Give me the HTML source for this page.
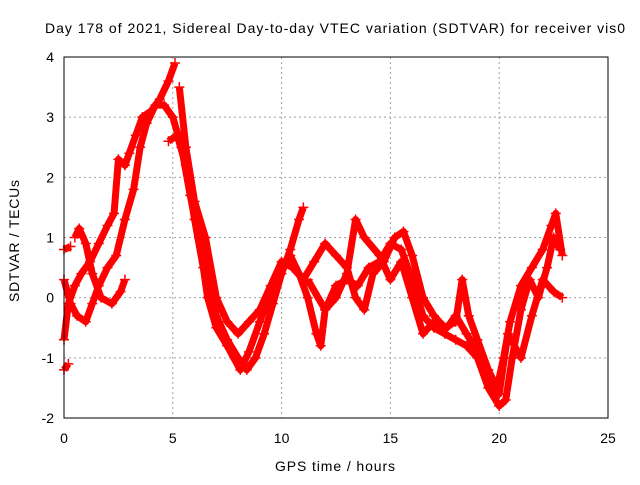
<!DOCTYPE html>
<html><head><meta charset="utf-8"><style>
body{margin:0;background:#fff}
svg text{font-family:"Liberation Sans",sans-serif;font-size:14px;fill:#000}
</style></head><body>
<svg id="chart" width="640" height="480" xmlns="http://www.w3.org/2000/svg">
<rect width="640" height="480" fill="#fff"/>
<g id="grid"></g>
<g id="series"></g>
<rect x="64" y="57" width="544" height="361" fill="none" stroke="#000" stroke-width="1"/>
<g id="ticks"></g>
<text x="45" y="33" textLength="580" lengthAdjust="spacing">Day 178 of 2021, Sidereal Day-to-day VTEC variation (SDTVAR) for receiver vis0</text>
<text x="275" y="471" textLength="120" lengthAdjust="spacing">GPS time / hours</text>
<text transform="translate(19,302) rotate(-90)" textLength="122" lengthAdjust="spacing">SDTVAR / TECUs</text>
</svg>
<script>
const xTicks=[0,5,10,15,20,25];
const yTicks=[-2,-1,0,1,2,3,4];
const s1=[[0,-0.7],[0.2,-0.1],[0.5,0.2],[0.8,0.4],[1.2,0.6],[1.6,0.9],[2,1.2],[2.3,1.4],[2.5,2.3],[2.8,2.2],[3.0,2.4],[3.3,2.7],[3.6,3.0],[4,3.1],[4.4,3.3],[4.8,3.6],[5.1,3.9]];
const s2=[[0,0.3],[0.3,-0.1],[0.6,-0.3],[1,-0.4],[1.3,-0.1],[1.6,0.2],[2,0.5],[2.4,0.7],[2.8,1.3],[3.2,1.8],[3.5,2.5],[3.8,2.9],[4.2,3.2],[4.6,3.2],[5,3.0],[5.4,2.5],[5.8,1.7],[6.2,1.0],[6.6,0.3],[7,-0.3],[7.5,-0.7],[8,-1.0],[8.4,-1.2],[8.8,-1.0],[9.2,-0.6],[9.6,-0.1],[10,0.4],[10.4,0.8],[10.8,1.3],[11.0,1.5]];
const s3=[[0.5,1.0],[0.7,1.15],[1.0,0.9],[1.3,0.4],[1.7,0.0],[2.2,-0.1],[2.6,0.1],[2.8,0.3]];
const s4=[[4.8,2.6],[5.2,2.7],[5.6,2.2],[6,1.3],[6.4,0.5],[6.6,0.0],[7,-0.5],[7.5,-0.8],[8.1,-1.2],[8.5,-0.9],[9,-0.4],[9.5,0.1],[10,0.5],[10.4,0.7],[10.8,0.4],[11.2,0.0],[11.6,-0.6],[11.8,-0.8],[12,-0.2],[12.5,0.2],[13,0.3],[13.5,0.2],[14,0.5],[14.5,0.6],[15,0.9],[15.5,0.8],[16,0.3],[16.5,-0.3],[17,-0.5],[17.5,-0.6],[18,-0.7],[18.5,-0.8],[19,-1.0],[19.5,-1.5],[20,-1.8],[20.3,-1.7],[20.6,-1.0],[21,-0.2],[21.4,0.3],[21.8,0.0],[22.2,0.5],[22.5,1.0],[22.8,0.8]];
const s5=[[5.3,3.5],[5.6,2.5],[6,1.6],[6.5,1.0],[7,0.0],[7.5,-0.4],[8,-0.6],[8.5,-0.4],[9,-0.2],[9.5,0.2],[10,0.6],[10.5,0.5],[11,0.3],[11.5,0.6],[12,0.9],[12.5,0.7],[13,0.5],[13.4,0.0],[13.8,-0.2],[14.2,0.4],[14.7,0.6],[15.2,1.0],[15.6,1.1],[16,0.7],[16.5,0.0],[17,-0.3],[17.5,-0.5],[18,-0.4],[18.3,0.3],[18.6,-0.3],[19,-0.7],[19.5,-1.2],[19.9,-1.5],[20.2,-1.0],[20.5,-0.4],[21,0.2],[21.5,0.5],[22,0.8],[22.4,1.2],[22.6,1.4],[22.9,0.7]];
const s6=[[11.2,0.3],[12,-0.2],[12.5,0.0],[13,0.4],[13.4,1.3],[13.8,1.0],[14.5,0.7],[15,0.3],[15.5,0.6],[16,0.0],[16.5,-0.6],[17,-0.4],[17.6,-0.5],[18,-0.3],[18.5,-0.6],[19,-0.9],[19.5,-1.3],[20,-1.6],[20.4,-0.6],[21,-1.0],[21.5,-0.3],[22,0.3],[22.5,0.1],[22.9,0.0]];
const s7=[[0,-1.2],[0.2,-1.1]];
const s8=[[0,0.8],[0.3,0.85]];
const allSeries=[s1,s2,s3,s4,s5,s6,s7,s8];
const NS="http://www.w3.org/2000/svg";
const X=v=>64+v*(544/25), Y=v=>418-(v+2)*(361/6);
const grid=document.getElementById('grid'),ticks=document.getElementById('ticks'),ser=document.getElementById('series');
xTicks.forEach(t=>{
 if(t>0&&t<25){const l=document.createElementNS(NS,'line');
 
 
 l.setAttribute('x1',X(t));l.setAttribute('x2',X(t));l.setAttribute('y1',57);l.setAttribute('y2',418);
 l.setAttribute('stroke','#a0a0a0');l.setAttribute('stroke-dasharray','2,3');grid.appendChild(l);}
 const tx=document.createElementNS(NS,'text');
 
 
 tx.setAttribute('x',X(t));tx.setAttribute('y',443);tx.setAttribute('text-anchor','middle');tx.textContent=t;ticks.appendChild(tx);
});
yTicks.forEach(t=>{
 if(t>-2&&t<4){const l=document.createElementNS(NS,'line');
 
 
 l.setAttribute('x1',64);l.setAttribute('x2',608);l.setAttribute('y1',Y(t));l.setAttribute('y2',Y(t));
 l.setAttribute('stroke','#a0a0a0');l.setAttribute('stroke-dasharray','2,3');grid.appendChild(l);}
 const tx=document.createElementNS(NS,'text');
 
 
 tx.setAttribute('x',54);tx.setAttribute('y',Y(t)+5);tx.setAttribute('text-anchor','end');tx.textContent=t;ticks.appendChild(tx);
});
allSeries.forEach(s=>{
 const p=document.createElementNS(NS,'polyline');
 
 
 p.setAttribute('points',s.map(d=>X(d[0])+','+Y(d[1])).join(' '));
 p.setAttribute('fill','none');p.setAttribute('stroke','#f00');p.setAttribute('stroke-width','7');p.setAttribute('stroke-linejoin','round');
 ser.appendChild(p);
 s.forEach(d=>{
  const m=document.createElementNS(NS,'path');
  
  
  const x=X(d[0]),y=Y(d[1]);
  m.setAttribute('d',`M${x-5},${y}H${x+5}M${x},${y-5}V${y+5}`);
  m.setAttribute('stroke','#f00');m.setAttribute('stroke-width','1.5');ser.appendChild(m);
 });
});
</script>
</body></html>
